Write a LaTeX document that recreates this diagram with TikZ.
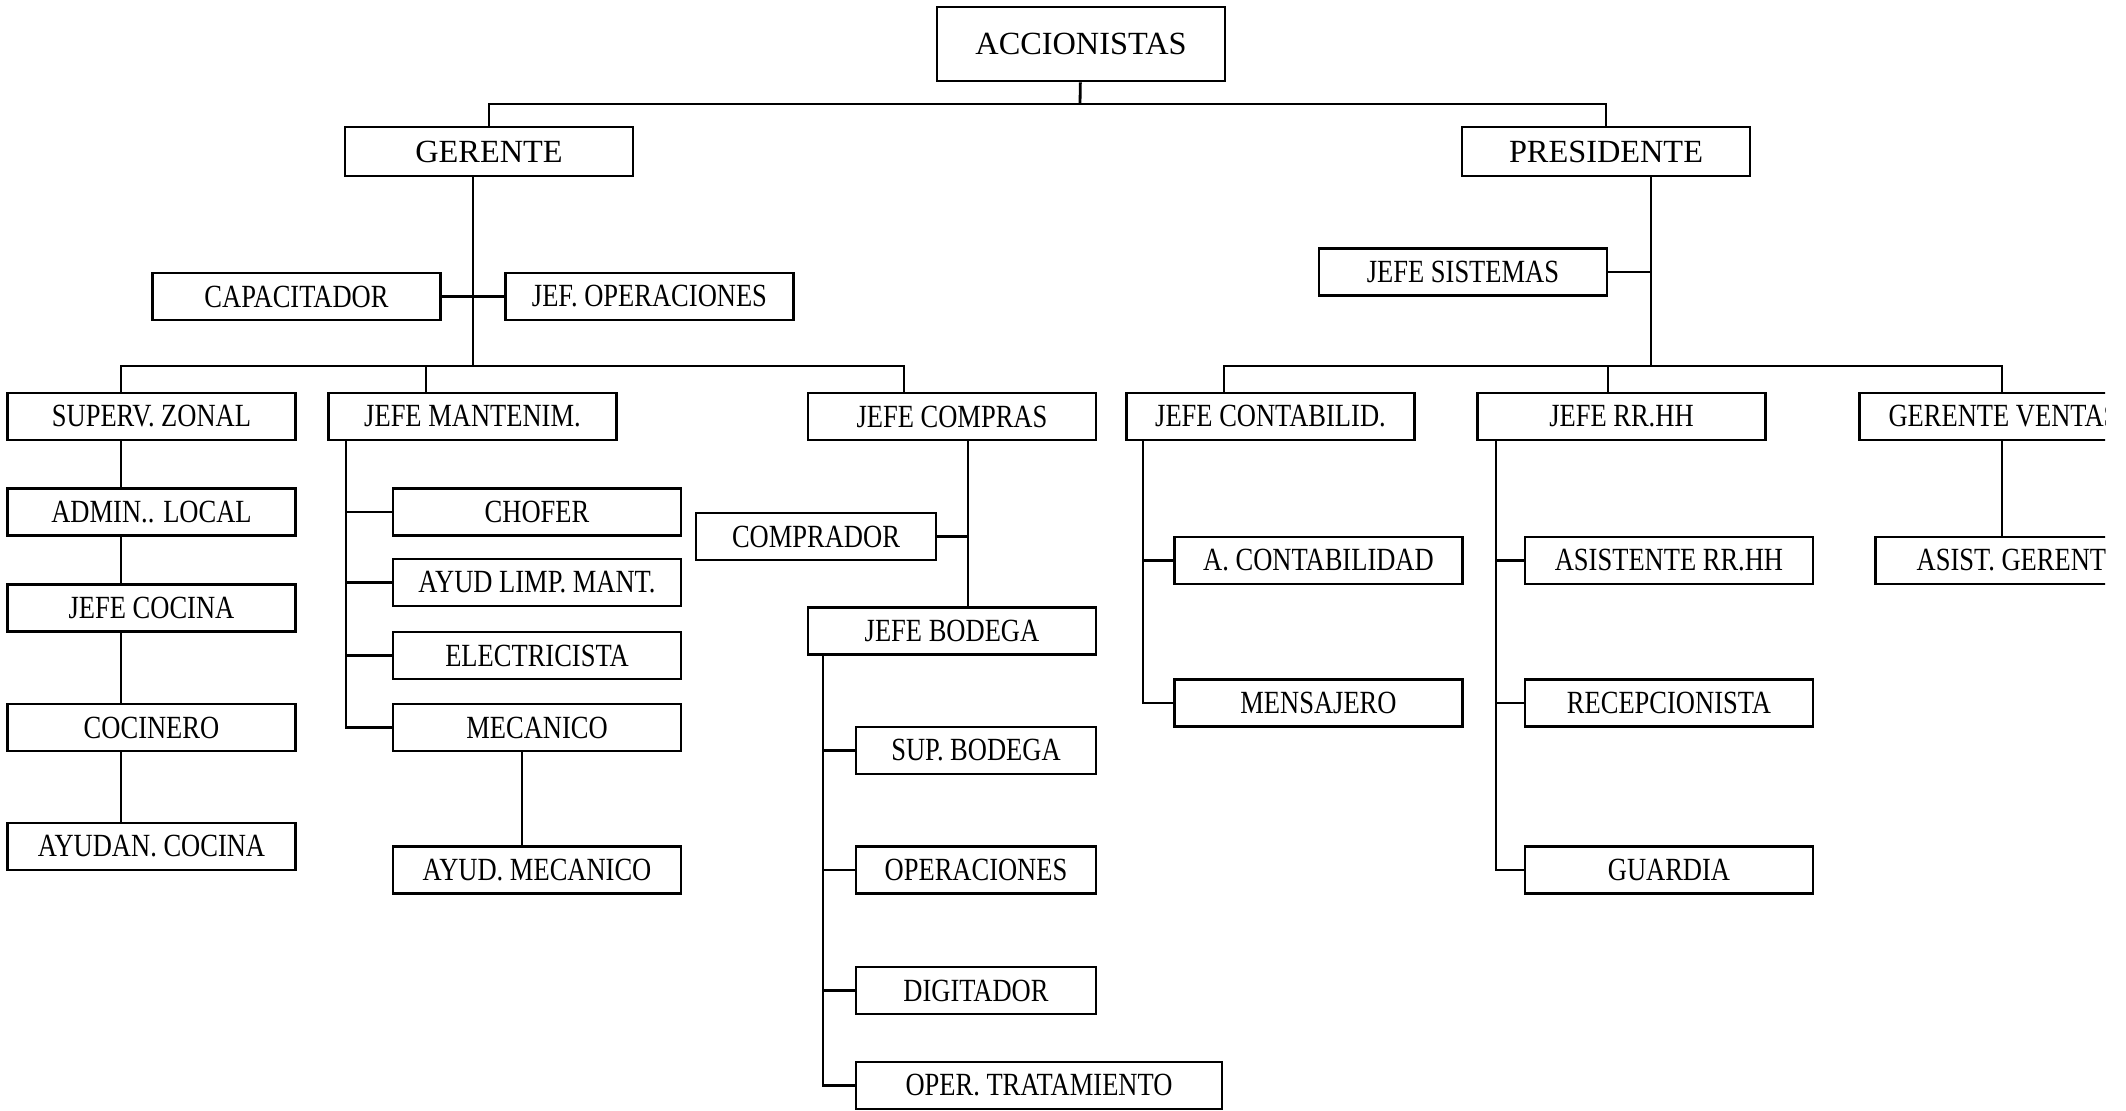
\documentclass[tikz,border=0pt]{standalone}
\usepackage{fontspec}
\setmainfont[FakeStretch=0.82]{Liberation Serif}
\newfontfamily\anchafont{Liberation Serif}

\tikzset{
  cargo/.style={shape=rectangle, draw=black, line width=0.8pt, fill=white,
    minimum width=2.88cm, minimum height=0.47cm, inner sep=0pt,
    font=\fontsize{9.2}{10}\selectfont},
  corto/.style={cargo, minimum width=2.40cm},
  alto/.style={cargo, font=\anchafont\fontsize{9.2}{10}\selectfont},
  linea/.style={draw=black, line width=0.8pt}
}

\def\topY{-1.04}
\def\barY{-3.66}

\begin{document}
\begin{tikzpicture}
  \useasboundingbox (0,0) rectangle (21.26,-11.10);
  \clip (0,0) rectangle (21.05,-11.10);

  %%   (name)   (x, y)          {text}
  \node[alto, minimum height=0.74cm] (acc)  at (10.81,-0.44)  {ACCIONISTAS};
  \node[alto, minimum height=0.49cm] (ger)  at (4.89,-1.515)  {GERENTE};
  \node[alto, minimum height=0.49cm] (pres) at (16.06,-1.515) {PRESIDENTE};

  \node[cargo] (jsis) at (14.63,-2.72)  {JEFE SISTEMAS};
  \node[cargo] (cap)  at (2.965,-2.965) {CAPACITADOR};
  \node[cargo] (jop)  at (6.495,-2.965) {JEF. OPERACIONES};

  % primer nivel
  \node[cargo] (supz)  at (1.515,-4.165)  {SUPERV. ZONAL};
  \node[cargo] (jman)  at (4.725,-4.165)  {JEFE MANTENIM.};
  \node[cargo] (jcomp) at (9.52,-4.165)   {JEFE COMPRAS};
  \node[cargo] (jcon)  at (12.705,-4.165) {JEFE CONTABILID.};
  \node[cargo] (jrh)   at (16.215,-4.165) {JEFE RR.HH};
  \node[cargo] (gven)  at (20.035,-4.165) {GERENTE VENTAS};

  % supervisor zonal
  \node[cargo] (adml) at (1.515,-5.12)  {ADMIN.. LOCAL};
  \node[cargo] (jcoc) at (1.515,-6.08)  {JEFE COCINA};
  \node[cargo] (cocn) at (1.515,-7.275) {COCINERO};
  \node[cargo] (ayco) at (1.515,-8.465) {AYUDAN. COCINA};

  % mantenimiento
  \node[cargo] (chof) at (5.37,-5.12)  {CHOFER};
  \node[cargo] (ayli) at (5.37,-5.825) {AYUD LIMP. MANT.};
  \node[cargo] (elec) at (5.37,-6.555) {ELECTRICISTA};
  \node[cargo] (mec)  at (5.37,-7.275) {MECANICO};
  \node[cargo] (aymc) at (5.37,-8.70)  {AYUD. MECANICO};

  % compras y bodega
  \node[corto] (compr) at (8.16,-5.365) {COMPRADOR};
  \node[cargo] (jbod)  at (9.52,-6.31)  {JEFE BODEGA};
  \node[corto] (supb)  at (9.76,-7.505) {SUP. BODEGA};
  \node[corto] (oper)  at (9.76,-8.70)  {OPERACIONES};
  \node[corto] (digi)  at (9.76,-9.905) {DIGITADOR};
  \node[corto, minimum width=3.66cm] (optr) at (10.39,-10.855) {OPER. TRATAMIENTO};

  % contabilidad, rr.hh, ventas
  \node[cargo] (acon) at (13.185,-5.605) {A. CONTABILIDAD};
  \node[cargo] (mens) at (13.185,-7.03)  {MENSAJERO};
  \node[cargo] (asrh) at (16.69,-5.605)  {ASISTENTE RR.HH};
  \node[cargo] (recp) at (16.69,-7.03)   {RECEPCIONISTA};
  \node[cargo] (guar) at (16.69,-8.70)   {GUARDIA};
  \node[cargo] (asge) at (20.195,-5.605) {ASIST. GERENTE};

  % puntos de las lineas
  \coordinate (top) at (10.80,\topY);
  \coordinate (gS)  at (4.73,\barY);
  \coordinate (pS)  at (16.51,\barY);
  \coordinate (bG1) at (1.21,\barY);
  \coordinate (bG2) at (4.26,\barY);
  \coordinate (bG3) at (9.04,\barY);
  \coordinate (bP1) at (12.24,\barY);
  \coordinate (bP2) at (16.08,\barY);
  \coordinate (bP3) at (20.02,\barY);
  \coordinate (mS)  at (3.46,0);
  \coordinate (mA)  at (5.22,0);
  \coordinate (cS)  at (9.68,0);
  \coordinate (bS)  at (8.23,0);
  \coordinate (kS)  at (11.43,0);
  \coordinate (rS)  at (14.96,0);

  \draw[linea] (acc) -- (top);
  \draw[linea] (ger.north) |- (top) -| (pres.north);

  % gerente
  \draw[linea] (ger.south -| gS) -- (gS);
  \draw[linea] (cap.east) -- (jop.west);
  \draw[linea] (supz.north -| bG1) -- (bG1) -- (bG3) -- (jcomp.north -| bG3);
  \draw[linea] (bG2) -- (jman.north -| bG2);

  \draw[linea] (supz.south -| bG1) -- (adml.north -| bG1);
  \draw[linea] (adml.south -| bG1) -- (jcoc.north -| bG1);
  \draw[linea] (jcoc.south -| bG1) -- (cocn.north -| bG1);
  \draw[linea] (cocn.south -| bG1) -- (ayco.north -| bG1);

  \draw[linea] (jman.south -| mS) |- (mec.west);
  \foreach \n in {chof,ayli,elec}
    \draw[linea] (mS |- \n.west) -- (\n.west);
  \draw[linea] (mec.south -| mA) -- (aymc.north -| mA);

  \draw[linea] (jcomp.south -| cS) -- (jbod.north -| cS);
  \draw[linea] (compr.east) -- (compr.east -| cS);
  \draw[linea] (jbod.south -| bS) |- (optr.west);
  \foreach \n in {supb,oper,digi}
    \draw[linea] (bS |- \n.west) -- (\n.west);

  % presidente
  \draw[linea] (pres.south -| pS) -- (pS);
  \draw[linea] (jsis.east) -- (jsis.east -| pS);
  \draw[linea] (jcon.north -| bP1) -- (bP1) -- (bP3) -- (gven.north -| bP3);
  \draw[linea] (bP2) -- (jrh.north -| bP2);

  \draw[linea] (jcon.south -| kS) |- (mens.west);
  \draw[linea] (kS |- acon.west) -- (acon.west);
  \draw[linea] (jrh.south -| rS) |- (guar.west);
  \foreach \n in {asrh,recp}
    \draw[linea] (rS |- \n.west) -- (\n.west);
  \draw[linea] (gven.south -| bP3) -- (asge.north -| bP3);

\end{tikzpicture}
\end{document}
